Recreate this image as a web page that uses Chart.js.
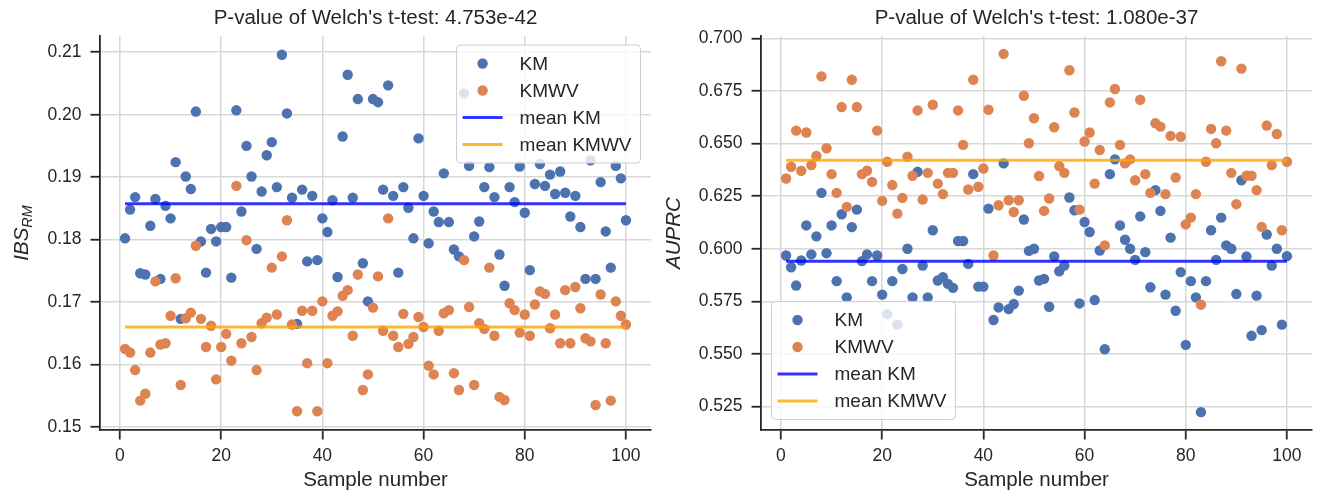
<!DOCTYPE html>
<html>
<head>
<meta charset="utf-8">
<script src="https://cdn.jsdelivr.net/npm/chart.js@4.4.0/dist/chart.umd.min.js"></script>
<style>
  html, body { margin: 0; padding: 0; background: #ffffff; }
  #wrap { position: relative; width: 1322px; height: 491px; overflow: hidden; }
  .panel { position: absolute; top: 0; width: 661px; height: 491px; }
  canvas { display: block; }
</style>
</head>
<body>
<div id="wrap">
  <div class="panel" style="left:0px"><canvas id="ibsChart" width="661" height="491"></canvas></div>
  <div class="panel" style="left:661px"><canvas id="auprcChart" width="661" height="491"></canvas></div>
</div>
<script>
// Sample index shared by both panels (1..100)
const sampleNumbers = Array.from({ length: 100 }, (_, i) => i + 1);

// Integrated Brier score per sample
const ibsKM = [
  0.1802, 0.1848, 0.1868, 0.1746, 0.1744, 0.1822, 0.1865, 0.1737, 0.1854, 0.1834,
  0.1924, 0.1673, 0.1901, 0.1881, 0.2005, 0.1797, 0.1747, 0.1817, 0.1797, 0.1820,
  0.1820, 0.1739, 0.2007, 0.1845, 0.1950, 0.1901, 0.1785, 0.1877, 0.1935, 0.1956,
  0.1884, 0.2096, 0.2002, 0.1867, 0.1665, 0.1880, 0.1765, 0.1870, 0.1767, 0.1834,
  0.1812, 0.1863, 0.1740, 0.1965, 0.2064, 0.1867, 0.2025, 0.1762, 0.1701, 0.2025,
  0.2020, 0.1880, 0.2047, 0.1870, 0.1747, 0.1884, 0.1851, 0.1802, 0.1962, 0.1870,
  0.1794, 0.1845, 0.1828, 0.1906, 0.1828, 0.1784, 0.1773, 0.2034, 0.1918, 0.1805,
  0.1829, 0.1884, 0.1916, 0.1868, 0.1776, 0.1726, 0.1884, 0.1860, 0.1917, 0.1843,
  0.1751, 0.1889, 0.1921, 0.1886, 0.1904, 0.1873, 0.1909, 0.1875, 0.1837, 0.1870,
  0.1820, 0.1737, 0.1927, 0.1737, 0.1892, 0.1813, 0.1755, 0.1918, 0.1898, 0.1831
];
const ibsKMWV = [
  0.1625, 0.1619, 0.1591, 0.1542, 0.1553, 0.1619, 0.1733, 0.1632, 0.1634, 0.1678,
  0.1738, 0.1567, 0.1674, 0.1683, 0.1790, 0.1673, 0.1628, 0.1662, 0.1576, 0.1628,
  0.1649, 0.1606, 0.1886, 0.1634, 0.1799, 0.1644, 0.1591, 0.1666, 0.1675, 0.1755,
  0.1680, 0.1773, 0.1831, 0.1664, 0.1525, 0.1686, 0.1602, 0.1686, 0.1525, 0.1701,
  0.1602, 0.1678, 0.1685, 0.1710, 0.1719, 0.1646, 0.1744, 0.1559, 0.1584, 0.1691,
  0.1741, 0.1654, 0.1834, 0.1646, 0.1628, 0.1681, 0.1633, 0.1644, 0.1676, 0.1660,
  0.1598, 0.1584, 0.1654, 0.1682, 0.1687, 0.1586, 0.1559, 0.1767, 0.1692, 0.1567,
  0.1666, 0.1657, 0.1755, 0.1646, 0.1548, 0.1543, 0.1698, 0.1687, 0.1651, 0.1680,
  0.1646, 0.1696, 0.1717, 0.1713, 0.1658, 0.1680, 0.1634, 0.1719, 0.1634, 0.1724,
  0.1690, 0.1642, 0.1637, 0.1535, 0.1712, 0.1634, 0.1542, 0.1701, 0.1678, 0.1664
];

// Area under the precision-recall curve per sample
const auprcKM = [
  0.5968, 0.5912, 0.5825, 0.5944, 0.6111, 0.5973, 0.6059, 0.6266, 0.5979, 0.6111,
  0.5846, 0.6164, 0.5769, 0.6103, 0.6186, 0.5941, 0.5973, 0.5846, 0.5968, 0.5782,
  0.5689, 0.5846, 0.5639, 0.5904, 0.6000, 0.5769, 0.6366, 0.5920, 0.5769, 0.6088,
  0.5849, 0.5865, 0.5833, 0.5814, 0.6037, 0.6037, 0.5928, 0.6355, 0.5820, 0.5820,
  0.6191, 0.5661, 0.5721, 0.6406, 0.5713, 0.5737, 0.5801, 0.6139, 0.5990, 0.6000,
  0.5849, 0.5857, 0.5724, 0.5963, 0.5893, 0.5920, 0.6244, 0.6183, 0.5740, 0.6127,
  0.6080, 0.5756, 0.5992, 0.5522, 0.6355, 0.6425, 0.6111, 0.6043, 0.6000, 0.5947,
  0.6154, 0.5984, 0.5817, 0.6279, 0.6180, 0.5782, 0.6053, 0.5705, 0.5889, 0.5543,
  0.5846, 0.5769, 0.5223, 0.5846, 0.6088, 0.5947, 0.6148, 0.6016, 0.6000, 0.5785,
  0.6326, 0.5963, 0.5586, 0.5777, 0.5613, 0.6068, 0.5920, 0.6000, 0.5639, 0.5965
];
const auprcKMWV = [
  0.6334, 0.6390, 0.6562, 0.6371, 0.6553, 0.6398, 0.6441, 0.6820, 0.6478, 0.6355,
  0.6266, 0.6674, 0.6199, 0.6804, 0.6674, 0.6355, 0.6371, 0.6318, 0.6562, 0.6228,
  0.6414, 0.6303, 0.6167, 0.6242, 0.6438, 0.6347, 0.6658, 0.6234, 0.6361, 0.6685,
  0.6310, 0.6260, 0.6361, 0.6361, 0.6658, 0.6494, 0.6282, 0.6804, 0.6295, 0.6382,
  0.6661, 0.5968, 0.6207, 0.6927, 0.6231, 0.6175, 0.6231, 0.6728, 0.6502, 0.6621,
  0.6346, 0.6180, 0.6239, 0.6578, 0.6393, 0.6361, 0.6849, 0.6648, 0.6186, 0.6510,
  0.6553, 0.6310, 0.6470, 0.6016, 0.6696, 0.6760, 0.6494, 0.6406, 0.6425, 0.6326,
  0.6709, 0.6355, 0.6266, 0.6597, 0.6581, 0.6260, 0.6537, 0.6339, 0.6533, 0.6116,
  0.6148, 0.6260, 0.5734, 0.6414, 0.6570, 0.6502, 0.6892, 0.6562, 0.6361, 0.6212,
  0.6857, 0.6347, 0.6347, 0.6279, 0.6104, 0.6586, 0.6398, 0.6546, 0.6088, 0.6414
];

// Tick values
const sampleTicks = [0, 20, 40, 60, 80, 100];
const ibsTicks = [0.15, 0.16, 0.17, 0.18, 0.19, 0.20, 0.21];
const auprcTicks = [0.525, 0.550, 0.575, 0.600, 0.625, 0.650, 0.675, 0.700];

// Panel titles
const ibsTitle = "P-value of Welch's t-test: 4.753e-42";
const auprcTitle = "P-value of Welch's t-test: 1.080e-37";

const FONT = '"Liberation Sans", Arial, Helvetica, sans-serif';
const INK = '#262626';
const GRID = '#d8d8d8';

const mean = arr => arr.reduce((a, b) => a + b, 0) / arr.length;
const toPoints = ys => ys.map((y, i) => ({ x: sampleNumbers[i], y }));

// Framed legend drawn inside the plot area
const boxLegend = {
  id: 'boxLegend',
  afterDatasetsDraw(chart, args, o) {
    const { ctx, chartArea: ca } = chart;
    const dss = chart.data.datasets;
    ctx.save();
    ctx.font = `${o.fontSize}px ${FONT}`;
    const textW = Math.max(...dss.map(d => ctx.measureText(d.label).width));
    const w = o.padL + o.handle + o.gap + textW + o.padR;
    const h = o.padT + o.row * (dss.length - 1) + o.padB;
    let x0, y0;
    if (o.corner === 'upper right') {
      x0 = ca.right - o.inset - w;
      y0 = ca.top + o.insetTop;
    } else {
      x0 = ca.left + o.inset;
      y0 = ca.bottom - o.inset - h;
    }
    const r = 4;
    ctx.beginPath();
    ctx.moveTo(x0 + r, y0);
    ctx.lineTo(x0 + w - r, y0);
    ctx.arcTo(x0 + w, y0, x0 + w, y0 + r, r);
    ctx.lineTo(x0 + w, y0 + h - r);
    ctx.arcTo(x0 + w, y0 + h, x0 + w - r, y0 + h, r);
    ctx.lineTo(x0 + r, y0 + h);
    ctx.arcTo(x0, y0 + h, x0, y0 + h - r, r);
    ctx.lineTo(x0, y0 + r);
    ctx.arcTo(x0, y0, x0 + r, y0, r);
    ctx.closePath();
    ctx.fillStyle = 'rgba(255,255,255,0.8)';
    ctx.fill();
    ctx.strokeStyle = '#cfcfcf';
    ctx.lineWidth = 1;
    ctx.stroke();

    dss.forEach((d, i) => {
      const cy = y0 + o.padT + i * o.row;
      const hx = x0 + o.padL;
      if (d.type === 'line') {
        ctx.strokeStyle = d.borderColor;
        ctx.lineWidth = d.borderWidth;
        ctx.beginPath();
        ctx.moveTo(hx, cy);
        ctx.lineTo(hx + o.handle, cy);
        ctx.stroke();
      } else {
        ctx.fillStyle = d.backgroundColor;
        ctx.beginPath();
        ctx.arc(hx + o.handle / 2, cy, d.pointRadius, 0, Math.PI * 2);
        ctx.fill();
      }
      ctx.fillStyle = INK;
      ctx.textAlign = 'left';
      ctx.textBaseline = 'middle';
      ctx.fillText(d.label, hx + o.handle + o.gap, cy + 1);
    });
    ctx.restore();
  }
};

// Axis titles (x label below, rotated y label with optional subscript)
const axisTitles = {
  id: 'axisTitles',
  afterDraw(chart, args, o) {
    const { ctx, chartArea: ca } = chart;
    ctx.save();
    ctx.fillStyle = INK;
    ctx.font = `${o.size}px ${FONT}`;
    ctx.textAlign = 'center';
    ctx.textBaseline = 'alphabetic';
    ctx.fillText(o.xText, (ca.left + ca.right) / 2, o.xBaseline);

    ctx.translate(o.yX, (ca.top + ca.bottom) / 2);
    ctx.rotate(-Math.PI / 2);
    const parts = o.yParts.map(p => {
      ctx.font = `italic ${o.size * p.scale}px ${FONT}`;
      return { ...p, w: ctx.measureText(p.text).width };
    });
    const total = parts.reduce((s, p) => s + p.w, 0);
    let x = -total / 2;
    ctx.textAlign = 'left';
    ctx.textBaseline = 'middle';
    parts.forEach(p => {
      ctx.font = `italic ${o.size * p.scale}px ${FONT}`;
      ctx.fillText(p.text, x, p.dy * o.size);
      x += p.w;
    });
    ctx.restore();
  }
};

function buildPanel(canvasId, cfg) {
  const mKM = mean(cfg.km);
  const mKMWV = mean(cfg.kmwv);
  const first = sampleNumbers[0];
  const last = sampleNumbers[sampleNumbers.length - 1];
  const tickFont = { family: FONT, size: 17.5 };
  const gridOpts = { color: GRID, lineWidth: 1.5, tickColor: INK, tickWidth: 1.8, tickLength: 9.5 };
  const borderOpts = { display: true, color: INK, width: 1.8 };

  return new Chart(document.getElementById(canvasId), {
    type: 'scatter',
    data: {
      datasets: [
        { label: 'KM', data: toPoints(cfg.km), backgroundColor: '#4c72b0', borderWidth: 0,
          pointRadius: 5.2, pointHoverRadius: 5.2, order: 4 },
        { label: 'KMWV', data: toPoints(cfg.kmwv), backgroundColor: '#dd8452', borderWidth: 0,
          pointRadius: 5.2, pointHoverRadius: 5.2, order: 3 },
        { type: 'line', label: 'mean KM', data: [{ x: first, y: mKM }, { x: last, y: mKM }],
          borderColor: 'rgba(0,0,255,0.8)', borderWidth: 3, pointRadius: 0, fill: false, order: 2 },
        { type: 'line', label: 'mean KMWV', data: [{ x: first, y: mKMWV }, { x: last, y: mKMWV }],
          borderColor: 'rgba(255,165,0,0.8)', borderWidth: 3, pointRadius: 0, fill: false, order: 1 }
      ]
    },
    options: {
      responsive: false,
      animation: false,
      devicePixelRatio: 1,
      layout: { padding: { left: 0, right: 10, top: 0, bottom: 0 } },
      plugins: {
        legend: { display: false },
        tooltip: { enabled: false },
        title: {
          display: true, text: cfg.title, fullSize: false, color: INK,
          font: { family: FONT, size: 20.5, weight: 'normal' },
          padding: { top: 6.5, bottom: 4.9 }
        },
        boxLegend: {
          corner: cfg.legendCorner, fontSize: 19, padL: 6, handle: 40, gap: 17,
          padR: 9, padT: 18.5, row: 27, padB: 18.5, inset: 10.5, insetTop: 9
        },
        axisTitles: {
          size: 20.5, xText: 'Sample number', xBaseline: 486,
          yX: cfg.yLabelX, yParts: cfg.yParts
        }
      },
      scales: {
        x: {
          type: 'linear', min: -3.95, max: 104.95,
          afterFit(s) { s.height = 61; },
          afterBuildTicks(s) { s.ticks = sampleTicks.map(v => ({ value: v })); },
          ticks: { color: INK, font: tickFont, padding: 6, autoSkip: false, maxRotation: 0,
                   callback: v => String(v) },
          grid: gridOpts, border: borderOpts
        },
        y: {
          type: 'linear', min: cfg.yMin, max: cfg.yMax,
          afterFit(s) { s.width = 100; },
          afterBuildTicks(s) { s.ticks = cfg.yTicks.map(v => ({ value: v })); },
          ticks: { color: INK, font: tickFont, padding: 9, autoSkip: false,
                   callback: v => v.toFixed(cfg.decimals) },
          grid: gridOpts, border: borderOpts
        }
      }
    },
    plugins: [boxLegend, axisTitles]
  });
}

buildPanel('ibsChart', {
  km: ibsKM, kmwv: ibsKMWV, title: ibsTitle,
  yMin: 0.1495, yMax: 0.2126, yTicks: ibsTicks, decimals: 2,
  legendCorner: 'upper right', yLabelX: 22,
  yParts: [{ text: 'IBS', scale: 1, dy: 0 }, { text: 'RM', scale: 0.7, dy: 0.28 }]
});

buildPanel('auprcChart', {
  km: auprcKM, kmwv: auprcKMWV, title: auprcTitle,
  yMin: 0.5138, yMax: 0.7012, yTicks: auprcTicks, decimals: 3,
  legendCorner: 'lower left', yLabelX: 13,
  yParts: [{ text: 'AUPRC', scale: 1, dy: 0 }]
});
</script>
</body>
</html>
